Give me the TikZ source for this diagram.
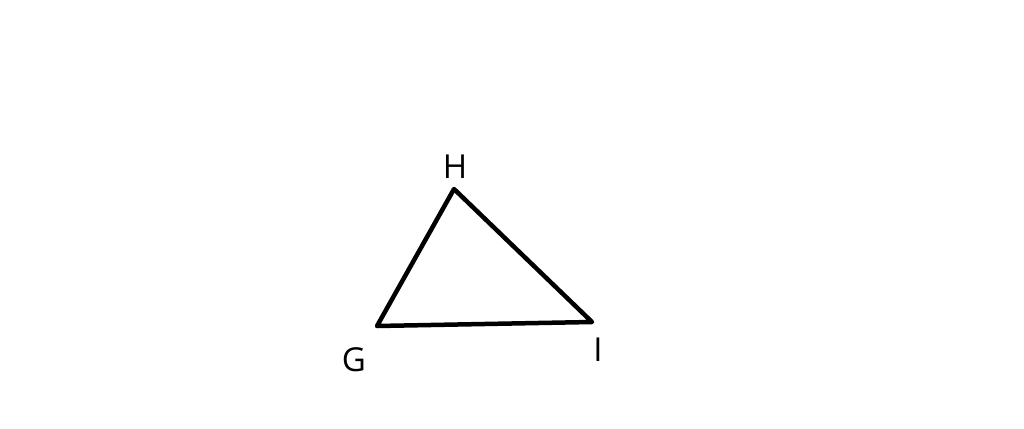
\documentclass[tikz,border=0pt]{standalone}
\usepackage{fontspec}
\setmainfont{Open Sans}
\begin{document}
\begin{tikzpicture}[x=1pt,y=-1pt,
  lbl/.style={inner sep=0pt, font=\fontsize{33}{33}\selectfont},
  edge/.style={line width=4.5pt, line join=round, line cap=round}]
\useasboundingbox (0,0) rectangle (1024,428);
\coordinate (H) at (454,189);
\coordinate (G) at (377,326);
\coordinate (I) at (592,322);
\draw[edge] (G) -- (H) -- (I) -- cycle;
\node[lbl] (lH) at (455,167) {H};
\node[lbl] (lG) at (354,360) {G};
\node[lbl] (lI) at (598,350) {I};
\end{tikzpicture}
\end{document}
